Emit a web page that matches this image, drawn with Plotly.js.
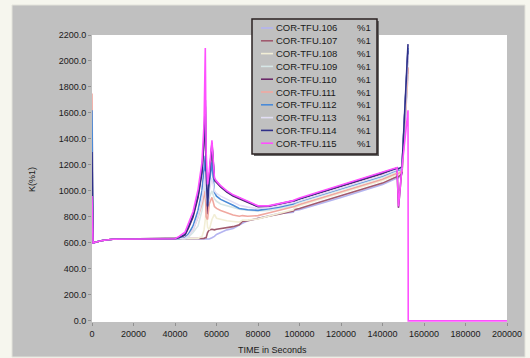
<!DOCTYPE html>
<html><head><meta charset="utf-8">
<script src="https://cdn.plot.ly/plotly-3.0.1.min.js"></script>
<style>html,body{margin:0;padding:0;background:#f6f6ee;}#chart{width:530px;height:358px;}</style>
</head><body><div id="chart"></div>
<script>
// time grid (seconds)
const times = [0,500,2000,5000,10000,20000,30000,40000,42000,44800,46500,48700,51100,53000,54000,54600,55000,55700,56500,57800,59000,60000,62000,65000,68000,71000,72500,75000,80000,85000,90000,97000,97500,100000,110000,120000,130000,140000,147000,147700,149400,152300];
const names = ["COR-TFU.106","COR-TFU.107","COR-TFU.108","COR-TFU.109","COR-TFU.110","COR-TFU.111","COR-TFU.112","COR-TFU.113","COR-TFU.114","COR-TFU.115"];
const colors = ["#b4b4f0","#a05a6e","#f2eed6","#d6e6e6","#6a2868","#f0a8a0","#4a8ad8","#e2def4","#303088","#ff50ff"];
const unitLabel = "%1";

const v106 = [700,600,607,618,628,630,631,632,632,632,632,632,632,632,630,630,630,625,630,640,650,665,680,700,710,740,750,770,790,810,825,835,850,855,900,950,1000,1050,1100,1100,1130,1900];
const v107 = [800,600,607,618,628,630,631,632,632,632,632,632,632,632,635,640,640,680,700,705,700,705,710,715,725,740,765,770,790,805,820,845,855,865,915,965,1015,1060,1110,1110,1140,1950];
const v108 = [650,600,607,618,628,630,631,632,632,632,632,632,635,650,700,780,850,720,700,780,820,790,780,770,765,760,775,775,785,805,830,855,870,885,935,985,1035,1080,1125,1125,1150,1900];
const v109 = [900,600,607,618,628,630,631,632,632,632,645,680,730,850,950,1050,850,820,950,1000,940,920,900,885,870,860,855,850,845,850,865,885,895,910,960,1010,1060,1105,1150,1150,1165,2000];
const v110 = [1050,600,607,618,628,630,631,632,638,660,715,800,950,1140,1380,1650,1100,820,1080,1350,1080,1065,1030,990,960,940,930,912,878,880,895,918,923,938,988,1038,1088,1133,1175,870,1180,2080];
const v111 = [1750,600,607,618,628,630,631,632,632,640,660,700,800,900,980,1000,800,780,900,950,880,865,850,830,815,805,810,805,810,830,850,875,880,895,945,995,1045,1090,1135,1135,1155,1950];
const v112 = [1620,600,607,618,628,630,631,632,632,640,670,730,850,1000,1150,1270,1000,900,1050,1220,990,960,935,915,890,865,860,855,850,860,875,900,905,920,970,1020,1070,1115,1160,1160,1170,2100];
const v113 = [750,600,607,618,628,630,631,632,632,635,655,700,800,930,1050,1150,950,900,1000,1100,1000,980,960,935,910,890,885,875,865,870,885,905,910,925,975,1025,1075,1120,1165,1165,1175,2050];
const v114 = [1300,600,607,618,628,630,631,632,640,665,725,810,965,1160,1400,1700,1150,880,1100,1370,1090,1070,1035,995,965,945,935,915,880,882,898,920,925,940,990,1040,1090,1135,1175,1170,1185,2130];
const v115 = [960,600,607,618,628,630,631,632,650,682,750,840,1010,1220,1520,2100,1300,1050,1150,1390,1100,1075,1040,1000,970,950,940,920,885,885,900,925,930,945,995,1045,1095,1140,1180,880,1180,1620];
// COR-TFU.115 continues at zero after the end of the test
const tail115Times = [152400,200000];
const tail115Values = [0,0];

const series = [v106,v107,v108,v109,v110,v111,v112,v113,v114,v115];

const traces = series.map((vals,i)=>{
  let x = times.slice(), y = vals.slice();
  if (i === 9) { x = x.concat(tail115Times); y = y.concat(tail115Values); }
  return {x:x, y:y, type:'scatter', mode:'lines', name:names[i],
    line:{color:colors[i], width:1.6}, showlegend:false, hoverinfo:'skip'};
});

// pixel -> paper helpers (plot area 92..507 x 35..322)
const L=92, R=507, T=35, B=322;
const px = p => (p-L)/(R-L);
const py = p => (B-p)/(B-T);

const shapes = [
  {type:'rect', xref:'paper', yref:'paper', x0:px(12), x1:px(525), y0:py(5), y1:py(357), fillcolor:'#c0c0c0', line:{color:'#e4e4dc', width:1}, layer:'below'},
  {type:'rect', xref:'paper', yref:'paper', x0:0, x1:1, y0:0, y1:1, fillcolor:'#ffffff', line:{width:0}, layer:'below'},
  // legend box
  {type:'rect', xref:'paper', yref:'paper', x0:px(254), x1:px(379), y0:py(21), y1:py(156), fillcolor:'#6a6a6a', line:{width:0}, layer:'above'},
  {type:'rect', xref:'paper', yref:'paper', x0:px(252), x1:px(377), y0:py(19), y1:py(154), fillcolor:'#c0c0c0', line:{color:'#2a2020', width:1.5}, layer:'above'}
];
const annotations = [];
names.forEach((n,i)=>{
  const yy = 28 + i*12.8;
  shapes.push({type:'line', xref:'paper', yref:'paper', x0:px(261), x1:px(273), y0:py(yy), y1:py(yy), line:{color:colors[i], width:1.6}, layer:'above'});
  annotations.push({xref:'paper', yref:'paper', x:px(274), y:py(yy), xanchor:'left', yanchor:'middle', text:n, showarrow:false, font:{size:9.5, color:'#1a1a1a'}});
  annotations.push({xref:'paper', yref:'paper', x:px(355), y:py(yy), xanchor:'left', yanchor:'middle', text:unitLabel, showarrow:false, font:{size:9.5, color:'#1a1a1a'}});
});
annotations.push({xref:'paper', yref:'paper', x:px(272), y:py(350), xanchor:'center', yanchor:'middle', text:'TIME in Seconds', showarrow:false, font:{size:9, color:'#1a1a1a'}});
annotations.push({xref:'paper', yref:'paper', x:px(32), y:py(180), xanchor:'center', yanchor:'middle', text:'K(%1)', textangle:-90, showarrow:false, font:{size:9, color:'#1a1a1a'}});

const layout = {
  width:530, height:358,
  margin:{l:L, r:530-R, t:T, b:358-B, pad:0},
  paper_bgcolor:'#f6f6ee', plot_bgcolor:'#ffffff',
  font:{family:'Arial, "Liberation Sans", sans-serif', size:9, color:'#1a1a1a'},
  showlegend:false,
  xaxis:{range:[0,200000], tickmode:'linear', tick0:0, dtick:20000, tickformat:'d',
    showgrid:false, zeroline:false, showline:false,
    ticks:'outside', ticklen:3, tickcolor:'#909090', tickfont:{size:9}},
  yaxis:{range:[-9,2200], tickmode:'linear', tick0:0, dtick:200, tickformat:'.1f',
    showgrid:false, zeroline:false, showline:false,
    ticks:'outside', ticklen:3, tickcolor:'#909090', tickfont:{size:9}},
  shapes:shapes, annotations:annotations
};
Plotly.newPlot('chart', traces, layout, {staticPlot:true, displayModeBar:false});
</script>
</body></html>
